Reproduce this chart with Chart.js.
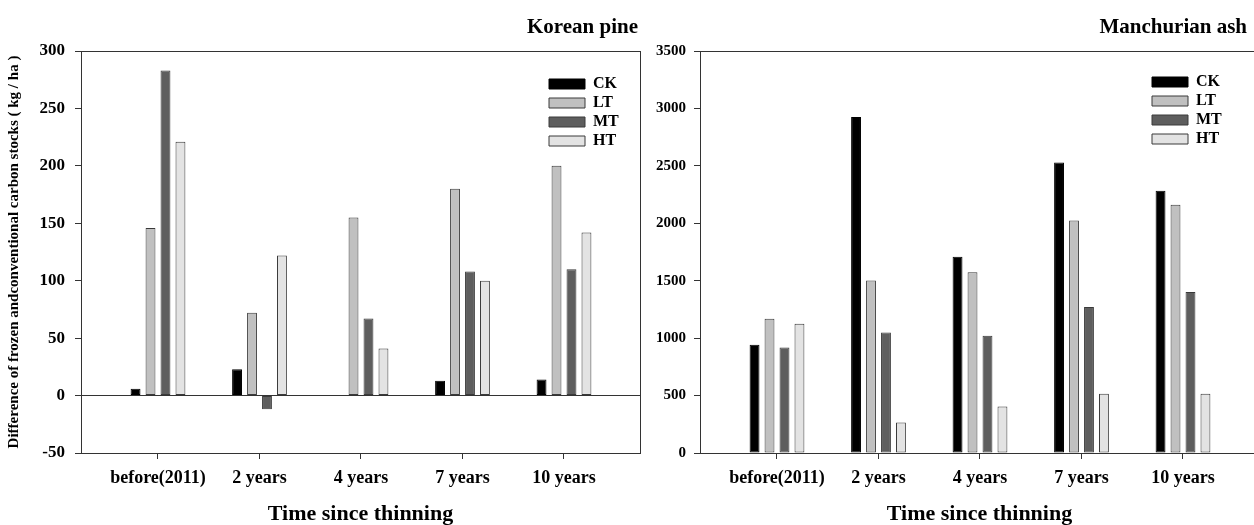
<!DOCTYPE html>
<html>
<head>
<meta charset="utf-8">
<script src="https://cdn.jsdelivr.net/npm/chart.js@4.4.1/dist/chart.umd.min.js"></script>
<style>
  html, body { margin: 0; padding: 0; background: #fff; overflow: hidden; }
  #wrap { position: relative; width: 1254px; height: 525px; overflow: hidden; }
  .box { position: absolute; top: 0; height: 525px; }
  #pineBox { left: 0; width: 645px; }
  #ashBox { left: 645px; width: 620px; }
</style>
</head>
<body>
<div id="wrap">
  <div class="box" id="pineBox"><canvas id="pineChart"></canvas></div>
  <div class="box" id="ashBox"><canvas id="ashChart"></canvas></div>
</div>
<script>
const categories = ['before(2011)', '2 years', '4 years', '7 years', '10 years'];
const seriesNames = ['CK', 'LT', 'MT', 'HT'];
const seriesColors = ['#000000', '#c0c0c0', '#5e5e5e', '#e3e3e3'];

// Korean pine (kg / ha)
const pineCK = [6, 23, null, 13, 14];
const pineLT = [146, 72, 155, 180, 200];
const pineMT = [283, -12, 67, 108, 110];
const pineHT = [221, 122, 41, 100, 142];
const pineYTicks = [-50, 0, 50, 100, 150, 200, 250, 300];

// Manchurian ash (kg / ha)
const ashCK = [942, 2925, 1708, 2530, 2283];
const ashLT = [1169, 1501, 1573, 2024, 2161];
const ashMT = [919, 1050, 1021, 1271, 1402];
const ashHT = [1126, 265, 404, 515, 515];
const ashYTicks = [0, 500, 1000, 1500, 2000, 2500, 3000, 3500];

const SERIF = '"Liberation Serif", "Times New Roman", serif';
const LINE = '#333';

// category i sits at x = i + 1 on a linear axis so the plot keeps the empty room on the right
const X_MIN = 0.2414, X_MAX = 5.7488;

function datasets(values) {
  return values.map((vals, s) => ({
    label: seriesNames[s],
    data: vals.map((v, i) => ({ x: i + 1, y: v })),
    backgroundColor: seriesColors[s],
    borderColor: s === 0 ? '#000' : '#3a3a3a',
    borderWidth: 1,
    borderSkipped: false,
    categoryPercentage: 0.59,
    barPercentage: 0.66
  }));
}

const frame = {
  id: 'frame',
  afterDraw(chart) {
    const { ctx, chartArea: a } = chart;
    ctx.save();
    ctx.strokeStyle = LINE;
    ctx.lineWidth = 1;
    ctx.strokeRect(Math.round(a.left) + 0.5, Math.round(a.top) + 0.5,
      Math.round(a.right - a.left), Math.round(a.bottom - a.top));
    ctx.restore();
  }
};

const cornerTitle = {
  id: 'cornerTitle',
  afterDraw(chart, args, opts) {
    const { ctx } = chart;
    ctx.save();
    ctx.font = 'bold ' + opts.size + 'px ' + SERIF;
    ctx.fillStyle = '#000';
    ctx.textAlign = 'right';
    ctx.textBaseline = 'alphabetic';
    ctx.fillText(opts.text, opts.x, opts.y);
    ctx.restore();
  }
};

const placeLegend = {
  id: 'placeLegend',
  afterLayout(chart, args, opts) {
    const lg = chart.legend;
    if (!lg) return;
    lg.left = opts.left;
    lg.top = opts.top;
    lg.right = lg.left + lg.width;
    lg.bottom = chart.chartArea.bottom;
  }
};

function makeChart(id, cfg) {
  return new Chart(document.getElementById(id), {
    type: 'bar',
    data: { datasets: datasets(cfg.values) },
    plugins: [frame, cornerTitle, placeLegend],
    options: {
      responsive: true,
      maintainAspectRatio: false,
      animation: false,
      layout: { padding: { left: 0, right: cfg.padRight, top: 51, bottom: 0 } },
      plugins: {
        tooltip: { enabled: false },
        cornerTitle: cfg.title,
        placeLegend: cfg.legendPos,
        legend: {
          position: 'chartArea',
          align: 'start',
          labels: {
            boxWidth: 36,
            boxHeight: 10,
            padding: 3,
            color: '#000',
            font: { family: SERIF, size: 16, weight: 'bold' }
          }
        }
      },
      scales: {
        x: {
          type: 'linear',
          min: X_MIN,
          max: X_MAX,
          offset: false,
          afterBuildTicks(scale) {
            scale.ticks = categories.map((c, i) => ({ value: i + 1 }));
          },
          afterFit(scale) { scale.height = 72; },
          border: { display: true, color: LINE },
          grid: { offset: false, drawOnChartArea: false, drawTicks: true, tickLength: 6, tickColor: LINE },
          ticks: {
            padding: 9,
            color: '#000',
            font: { family: SERIF, size: 18, weight: 'bold' },
            callback: (v, i) => categories[i]
          },
          title: {
            display: true,
            text: 'Time since thinning',
            color: '#000',
            padding: { top: 0, bottom: 0 },
            font: { family: SERIF, size: 22, weight: 'bold', lineHeight: 1 }
          }
        },
        y: {
          min: cfg.yTicks[0],
          max: cfg.yTicks[cfg.yTicks.length - 1],
          afterBuildTicks(scale) {
            scale.ticks = cfg.yTicks.map(v => ({ value: v }));
          },
          afterFit(scale) { scale.width = cfg.yWidth; },
          border: { display: true, color: LINE },
          grid: {
            drawTicks: true,
            tickLength: 6,
            tickColor: LINE,
            color: (c) => (cfg.zeroLine && c.tick && c.tick.value === 0) ? LINE : 'rgba(0,0,0,0)'
          },
          ticks: {
            padding: cfg.tickPad,
            color: '#000',
            font: { family: SERIF, size: cfg.yFont, weight: 'bold' },
            callback: (v) => String(v)
          },
          title: {
            display: !!cfg.yTitle,
            text: cfg.yTitle || '',
            color: '#000',
            padding: { top: 5, bottom: 0 },
            font: { family: SERIF, size: 15, weight: 'bold' }
          }
        }
      }
    }
  });
}

makeChart('pineChart', {
  values: [pineCK, pineLT, pineMT, pineHT],
  yTicks: pineYTicks,
  yWidth: 81,
  padRight: 5,
  tickPad: 10,
  yFont: 17,
  zeroLine: true,
  yTitle: 'Difference of frozen andconventional carbon stocks ( kg / ha )',
  title: { text: 'Korean pine', x: 638, y: 33, size: 21 },
  legendPos: { left: 546, top: 73 }
});

makeChart('ashChart', {
  values: [ashCK, ashLT, ashMT, ashHT],
  yTicks: ashYTicks,
  yWidth: 55,
  padRight: 6,
  tickPad: 8,
  yFont: 15,
  zeroLine: false,
  yTitle: '',
  title: { text: 'Manchurian ash', x: 602, y: 33, size: 21 },
  legendPos: { left: 504, top: 71 }
});
</script>
</body>
</html>
